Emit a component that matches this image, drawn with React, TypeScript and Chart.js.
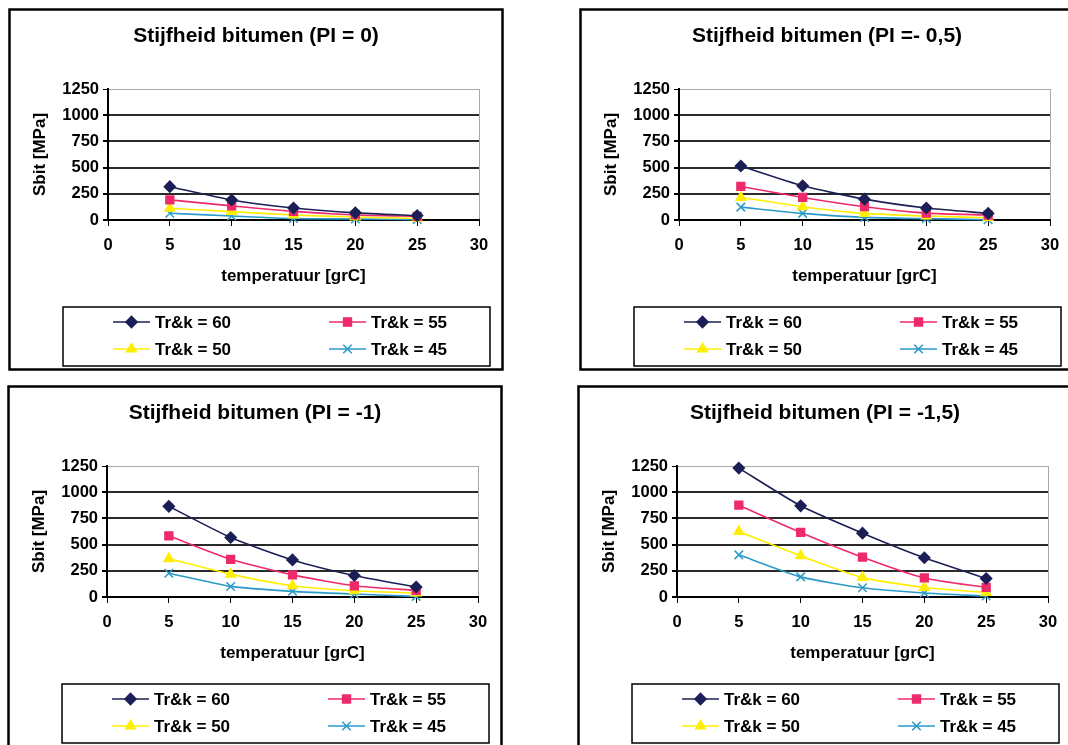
import React, { useEffect, useRef } from "react";
import { Chart, registerables } from "chart.js";
import { drawPoint } from "chart.js/helpers";

Chart.register(...registerables);

// ---------- data ----------
const temperatures = [5, 10, 15, 20, 25];
const seriesLabels = ["Tr&k = 60", "Tr&k = 55", "Tr&k = 50", "Tr&k = 45"];
const panelTitles = [
  "Stijfheid bitumen (PI = 0)",
  "Stijfheid bitumen (PI =- 0,5)",
  "Stijfheid bitumen (PI = -1)",
  "Stijfheid bitumen (PI = -1,5)",
];
const xTitle = "temperatuur [grC]";
const yTitle = "Sbit [MPa]";

// PI = 0
const pi0_60 = [318, 191, 115, 68, 42];
const pi0_55 = [192, 135, 82, 48, 35];
const pi0_50 = [112, 80, 48, 28, 16];
const pi0_45 = [64, 38, 14, 10, 4];

// PI = -0,5
const piM05_60 = [515, 326, 199, 114, 63];
const piM05_55 = [320, 215, 127, 66, 47];
const piM05_50 = [215, 127, 63, 38, 22];
const piM05_45 = [123, 63, 25, 13, 3];

// PI = -1
const piM1_60 = [865, 568, 354, 205, 95];
const piM1_55 = [584, 360, 211, 107, 63];
const piM1_50 = [366, 218, 107, 60, 38];
const piM1_45 = [227, 101, 54, 28, 6];

// PI = -1,5
const piM15_60 = [1230, 870, 609, 374, 176];
const piM15_55 = [876, 616, 380, 182, 91];
const piM15_50 = [625, 393, 185, 91, 44];
const piM15_45 = [402, 192, 88, 38, 9];

const panelSeries = [
  [pi0_60, pi0_55, pi0_50, pi0_45],
  [piM05_60, piM05_55, piM05_50, piM05_45],
  [piM1_60, piM1_55, piM1_50, piM1_45],
  [piM15_60, piM15_55, piM15_50, piM15_45],
];

// ---------- styles ----------
const COLORS = ["#1c1f55", "#ee2a6a", "#ffee00", "#2a9ac8"];
const POINT_STYLES = ["rectRot", "rect", "triangle", "crossRot"];
const POINT_RADII = [5.5, 5.5, 5.5, 6];
const FONT = '"Liberation Sans", Arial, sans-serif';
const PANEL_W = 496;
const PANEL_H = 363;
const PANEL_POS = [
  { left: 8, top: 8 },
  { left: 579, top: 8 },
  { left: 7, top: 385 },
  { left: 577, top: 385 },
];

function makePanelPlugin(title: string) {
  return {
    id: "panelDecor",
    beforeDraw(chart: any) {
      const ctx = chart.ctx;
      ctx.save();
      ctx.fillStyle = "#ffffff";
      ctx.fillRect(0, 0, chart.width, chart.height);
      ctx.restore();
    },
    afterDraw(chart: any) {
      const ctx = chart.ctx;
      ctx.save();
      // outer border
      ctx.strokeStyle = "#000";
      ctx.lineWidth = 2.5;
      ctx.strokeRect(1.5, 1.5, chart.width - 3, chart.height - 3);
      // title
      ctx.fillStyle = "#000";
      ctx.font = `bold 21px ${FONT}`;
      ctx.textAlign = "center";
      ctx.textBaseline = "middle";
      ctx.fillText(title, chart.width / 2, 28);
      // legend
      const bx = 55, by = 299, bw = 427, bh = 59;
      ctx.lineWidth = 1.5;
      ctx.strokeStyle = "#000";
      ctx.strokeRect(bx, by, bw, bh);
      const rows = [314, 341];
      const cols = [50, 266];
      chart.data.datasets.forEach((ds: any, i: number) => {
        const cx = bx + cols[i % 2];
        const cy = rows[Math.floor(i / 2)];
        ctx.strokeStyle = ds.borderColor;
        ctx.lineWidth = 1.6;
        ctx.beginPath();
        ctx.moveTo(cx, cy);
        ctx.lineTo(cx + 37, cy);
        ctx.stroke();
        ctx.fillStyle = ds.backgroundColor;
        ctx.strokeStyle = ds.borderColor;
        drawPoint(ctx, { pointStyle: ds.pointStyle, radius: ds.pointRadius, rotation: 0, borderWidth: 1.5 } as any, cx + 18.5, cy);
        ctx.fillStyle = "#000";
        ctx.font = `bold 17px ${FONT}`;
        ctx.textAlign = "left";
        ctx.textBaseline = "middle";
        ctx.fillText(ds.label, cx + 42, cy + 1);
      });
      ctx.restore();
    },
  };
}

function Panel({ index }: { index: number }) {
  const ref = useRef<HTMLCanvasElement>(null);
  useEffect(() => {
    const series = panelSeries[index];
    const chart = new Chart(ref.current as HTMLCanvasElement, {
      type: "line",
      data: {
        datasets: series.map((vals, i) => ({
          label: seriesLabels[i],
          data: temperatures.map((t, j) => ({ x: t, y: vals[j] })),
          borderColor: COLORS[i],
          backgroundColor: COLORS[i],
          pointStyle: POINT_STYLES[i] as any,
          pointRadius: POINT_RADII[i],
          pointBorderWidth: 1.5,
          borderWidth: 1.6,
          tension: 0.2,
          fill: false,
          clip: false as any,
        })),
      },
      options: {
        responsive: false,
        animation: false,
        devicePixelRatio: 1,
        layout: { padding: { left: 21.8, right: 25, top: 81, bottom: 84.8 } },
        plugins: {
          legend: { display: false },
          title: { display: false },
          tooltip: { enabled: false },
        },
        scales: {
          x: {
            type: "linear",
            min: 0,
            max: 30,
            ticks: {
              stepSize: 5,
              color: "#000",
              padding: 10,
              font: { family: FONT, size: 16.5, weight: "bold" },
              callback: (v: any) => String(v),
            },
            grid: {
              color: (c: any) => (c.tick && c.tick.value === 30 ? "#a8a8a8" : "rgba(0,0,0,0)"),
              tickColor: "#000",
              tickLength: 6,
              lineWidth: 1,
            },
            border: { color: "#000", width: 2 },
            title: {
              display: true,
              text: xTitle,
              color: "#000",
              padding: 0,
              font: { family: FONT, size: 17, weight: "bold" },
            },
            afterFit: (s: any) => {
              s.height = 66.2;
            },
          },
          y: {
            type: "linear",
            min: 0,
            max: 1250,
            ticks: {
              stepSize: 250,
              color: "#000",
              padding: 4,
              font: { family: FONT, size: 16.5, weight: "bold" },
              callback: (v: any) => String(v),
            },
            grid: {
              color: (c: any) => (c.tick && c.tick.value === 1250 ? "#a8a8a8" : "#2a2a2a"),
              lineWidth: (c: any) => (c.tick && c.tick.value === 1250 ? 1 : 2),
              tickColor: "#000",
              tickLength: 5,
            },
            border: { color: "#000", width: 2 },
            title: {
              display: true,
              text: yTitle,
              color: "#000",
              padding: 0,
              font: { family: FONT, size: 17, weight: "bold" },
            },
            afterFit: (s: any) => {
              s.width = 78.2;
            },
          },
        },
      } as any,
      plugins: [makePanelPlugin(panelTitles[index])],
    });
    return () => chart.destroy();
  }, [index]);
  const pos = PANEL_POS[index];
  return (
    <canvas
      ref={ref}
      width={PANEL_W}
      height={PANEL_H}
      style={{ position: "absolute", left: pos.left, top: pos.top, width: PANEL_W, height: PANEL_H }}
    />
  );
}

export default function App() {
  return (
    <div
      style={{
        position: "fixed",
        left: 0,
        top: 0,
        width: 1068,
        height: 745,
        overflow: "hidden",
        background: "#ffffff",
      }}
    >
      {[0, 1, 2, 3].map((i) => (
        <Panel key={i} index={i} />
      ))}
    </div>
  );
}
